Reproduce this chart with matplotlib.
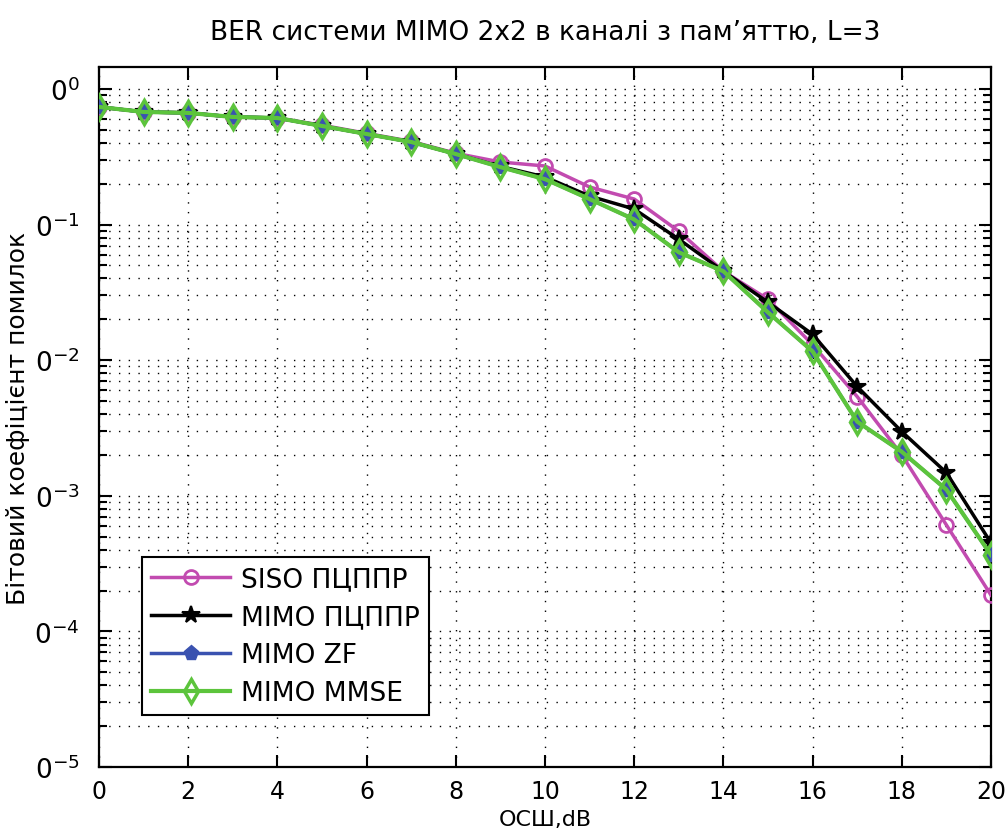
import matplotlib
matplotlib.use('Agg')
import matplotlib.pyplot as plt
from matplotlib.ticker import FixedLocator, FixedFormatter, LogLocator, NullFormatter

# ---- data ----
snr_db = list(range(0, 21))
ber_siso = [0.736, 0.676, 0.665, 0.621, 0.610, 0.540, 0.470, 0.410, 0.335, 0.289, 0.270,
            0.189, 0.154, 0.0892, 0.0452, 0.0281, 0.0130, 0.00538, 0.00200, 0.000609, 0.000185]
ber_mimo = [0.736, 0.676, 0.665, 0.621, 0.610, 0.533, 0.465, 0.406, 0.331, 0.268, 0.224,
            0.162, 0.130, 0.0779, 0.0452, 0.0267, 0.0155, 0.00638, 0.00297, 0.00148, 0.000449]
ber_zf = [0.736, 0.676, 0.665, 0.621, 0.610, 0.533, 0.465, 0.406, 0.331, 0.265, 0.216,
          0.154, 0.109, 0.0624, 0.0452, 0.0225, 0.0116, 0.00352, 0.00211, 0.00111, 0.000366]
ber_mmse = [0.736, 0.676, 0.665, 0.621, 0.610, 0.533, 0.465, 0.406, 0.331, 0.265, 0.216,
            0.154, 0.109, 0.0624, 0.0452, 0.0225, 0.0116, 0.00352, 0.00211, 0.00111, 0.000366]
labels = ['SISO ПЦППР', 'MIMO ПЦППР', 'MIMO ZF', 'MIMO MMSE']
x_ticks = list(range(0, 21, 2))
y_ticks = [1e0, 1e-1, 1e-2, 1e-3, 1e-4, 1e-5]
y_tick_labels = [r'$0^{0}$', r'$0^{-1}$', r'$0^{-2}$', r'$0^{-3}$', r'$0^{-4}$', r'$0^{-5}$']
title = 'BER системи MIMO 2x2 в каналі з пам’яттю, L=3'
xlabel = 'ОСШ,dB'
ylabel = 'Бітовий коефіцієнт помилок'

plt.rcParams['font.family'] = ['DejaVu Sans']
plt.rcParams['mathtext.fontset'] = 'custom'
plt.rcParams['mathtext.rm'] = 'DejaVu Sans'
plt.rcParams['mathtext.it'] = 'DejaVu Sans'
plt.rcParams['mathtext.default'] = 'regular'

fig = plt.figure(figsize=(10.05, 8.37), dpi=100)
ax = fig.add_axes([99 / 1005, 1 - 768 / 837, 892 / 1005, 700 / 837])

ax.set_yscale('log')
ax.set_xlim(0, 20)
ax.set_ylim(1e-5, 1.45)

dots = (0, (1, 6))
ax.grid(True, which='major', axis='both', color='black', linestyle=dots, linewidth=1.0)
ax.grid(True, which='minor', axis='y', color='black', linestyle=dots, linewidth=1.0)

magenta = '#C24BB0'
black = '#000000'
blue = '#3A52B0'
green = '#5CC43C'

ax.plot(snr_db, ber_siso, color=magenta, lw=2.5, marker='o', ms=10, mfc='none', mew=2.0,
        label=labels[0], zorder=3)
ax.plot(snr_db, ber_mimo, color=black, lw=2.5, marker='*', ms=13, mfc=black, mew=1.5,
        label=labels[1], zorder=4)
ax.plot(snr_db, ber_zf, color=blue, lw=2.5, marker='p', ms=11, mfc=blue, mew=1.0,
        label=labels[2], zorder=5)
ax.plot(snr_db, ber_mmse, color=green, lw=3.0, marker='d', ms=12, mfc='none', mew=2.5,
        label=labels[3], zorder=6)

ax.xaxis.set_major_locator(FixedLocator(x_ticks))
ax.yaxis.set_major_locator(FixedLocator(y_ticks))
ax.yaxis.set_major_formatter(FixedFormatter(y_tick_labels))
ax.yaxis.set_minor_locator(LogLocator(base=10, subs=[2, 3, 4, 5, 6, 7, 8, 9], numticks=20))
ax.yaxis.set_minor_formatter(NullFormatter())

ax.tick_params(which='both', direction='in', top=True, right=True, width=1.5, color='black')
ax.tick_params(which='major', length=9)
ax.tick_params(which='minor', length=6)
ax.tick_params(axis='x', labelsize=17, pad=9)
ax.tick_params(axis='y', labelsize=19, pad=14)
for s in ax.spines.values():
    s.set_linewidth(1.6)
    s.set_color('black')

ax.set_title(title, fontsize=19, pad=20)
ax.set_xlabel(xlabel, fontsize=16, va='center')
ax.xaxis.set_label_coords(0.5, -0.075)
ax.set_ylabel(ylabel, fontsize=18)
ax.yaxis.set_label_coords(-0.077, 0.5)

leg = ax.legend(loc='lower left', bbox_to_anchor=(0.048, 0.074), borderaxespad=0,
                fontsize=19, handlelength=3.0, handletextpad=0.4, labelspacing=0.45,
                borderpad=0.35, fancybox=False, framealpha=1, edgecolor='black')
leg.get_frame().set_linewidth(1.5)
leg.set_zorder(10)

fig.savefig('out.png', dpi=100)
